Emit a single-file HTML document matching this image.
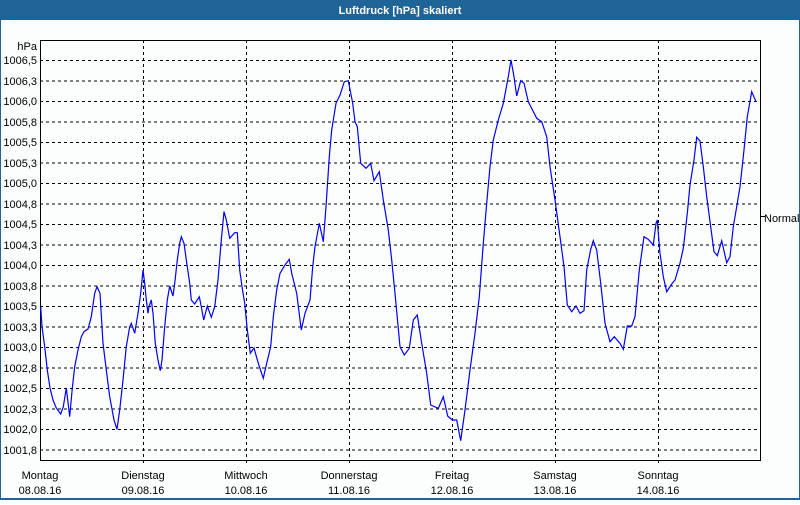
<!DOCTYPE html>
<html><head><meta charset="utf-8"><style>
html,body{margin:0;padding:0;background:#fff}
body{width:800px;height:500px;overflow:hidden}
svg text{font-family:"Liberation Sans",sans-serif;font-size:11px;fill:#000}
</style></head><body>
<svg width="800" height="500" xmlns="http://www.w3.org/2000/svg">
<rect x="0" y="0" width="800" height="500" fill="#fcfefe"/>
<rect x="0" y="0" width="800" height="20" fill="#1f6496"/>
<rect x="0" y="0" width="1" height="500" fill="#1f6496"/>
<rect x="799" y="0" width="1" height="500" fill="#1f6496"/>
<rect x="0" y="498" width="800" height="2" fill="#1f6496"/>
<text x="400" y="14" text-anchor="middle" style="fill:#fff;font-weight:bold">Luftdruck [hPa] skaliert</text>
<g stroke="#000" stroke-width="1" stroke-dasharray="3,3" fill="none">
<path d="M40 60.5H761M40 81H761M40 101.5H761M40 122H761M40 142.5H761M40 163H761M40 183.5H761M40 204H761M40 224.5H761M40 245H761M40 265.5H761M40 286H761M40 306.5H761M40 327H761M40 347.5H761M40 368H761M40 388.5H761M40 409H761M40 429.5H761M40 450H761"/>
<path d="M143.5 40V466M246.5 40V466M349.5 40V466M452.5 40V466M555.5 40V466M658.5 40V466"/>
</g>
<path d="M40.5 40V461M40 40.5H761M760.5 40V461M40 460.5H761M761 216.5H765" stroke="#000" stroke-width="1" fill="none"/>
<g text-anchor="end">
<text x="37" y="50">hPa</text>
<text x="37" y="64">1006,5</text><text x="37" y="85">1006,3</text><text x="37" y="105">1006,0</text><text x="37" y="126">1005,8</text><text x="37" y="146">1005,5</text><text x="37" y="167">1005,3</text><text x="37" y="187">1005,0</text><text x="37" y="208">1004,8</text><text x="37" y="228">1004,5</text><text x="37" y="249">1004,3</text><text x="37" y="269">1004,0</text><text x="37" y="290">1003,8</text><text x="37" y="310">1003,5</text><text x="37" y="331">1003,3</text><text x="37" y="351">1003,0</text><text x="37" y="372">1002,8</text><text x="37" y="392">1002,5</text><text x="37" y="413">1002,3</text><text x="37" y="433">1002,0</text><text x="37" y="454">1001,8</text>
</g>
<text x="764" y="222">Normal</text>
<g text-anchor="middle">
<text x="40" y="479">Montag</text><text x="40" y="494">08.08.16</text>
<text x="143" y="479">Dienstag</text><text x="143" y="494">09.08.16</text>
<text x="246" y="479">Mittwoch</text><text x="246" y="494">10.08.16</text>
<text x="349" y="479">Donnerstag</text><text x="349" y="494">11.08.16</text>
<text x="452" y="479">Freitag</text><text x="452" y="494">12.08.16</text>
<text x="555" y="479">Samstag</text><text x="555" y="494">13.08.16</text>
<text x="658" y="479">Sonntag</text><text x="658" y="494">14.08.16</text>
</g>
<polyline fill="none" stroke="#0000ff" stroke-width="1.2" points="40.7,306.7 42,326.7 44.7,346.7 47.3,370 50,388 53,400 56.3,408 60.7,414 63.3,406.7 66.3,388 69.7,416.7 72.3,388 74.7,366.7 78,350 81.3,336.7 84,331.7 88,329 91.3,316.7 94.7,293.3 97,286.7 100,293.3 103,343.3 106.3,370 109.7,396.7 114,420 117,429.3 119.7,410 123,380 126.3,346.7 129.7,326.7 131.3,323.3 134.7,333.3 138,313.3 140.7,293.3 143,270 144.7,283.3 146.3,300 148,313.3 149,306.7 151.3,300 153,313.3 155.3,343.3 158,360 160.3,370.7 162,360 164.7,326.7 167.3,300 169.7,286 173,296 174.7,283.3 177.3,260 179.7,243.3 181.3,236.7 184,243.3 186.3,260 189.7,283.3 191.3,300 194.7,304 199.3,296.7 201.3,306.7 203.7,320 207.3,306 211.3,317.3 214.7,306.7 218,280 221.3,240 224,211.7 226.3,220 229.7,238.3 234.7,232.7 237.3,232.7 239.7,270 242,286.7 244.7,303.3 247.3,330 250.3,353.3 254,348 258.3,363.3 263.3,378.3 266.7,363.3 270.7,346.7 273.3,316.7 276.7,290 280,273.3 285,265 289.3,259.3 291.7,273.3 296.7,293.3 301.3,330 305,313.3 310,300 312.7,266.7 315,246.7 319.3,223.3 323.3,241.7 326,206.7 329.3,156.7 331.7,130 336,103.3 340,95 344.3,81.7 348.3,80.7 352.7,103.3 355,121.7 357.3,126.7 360.7,163.3 366,168.3 370.7,163.3 374,180.7 379.3,171.7 383.3,200 388.3,230 391.7,260 395,293.3 400,346.7 404.3,355 409.3,348.3 413.3,320 417.3,315 421.7,343.3 426.7,373.3 430.7,405 438.3,408.3 443.3,396.7 447.7,416 452.3,420 456.7,420 460.7,440.7 465,410 470,370 475,333.3 479.3,296.7 483.3,243.3 486.7,203.3 490,166.7 493.3,140 498.3,120 503.3,103.3 508.3,76.7 511,60 514,76.7 516.7,96 520.7,80.7 524,83.3 528.3,101.7 536.7,118.3 541.7,121.7 546.7,136.7 550,166.7 555,200 560,236.7 564,266.7 567.3,305 571.7,311.7 576,306 580,313.3 584,310.7 586.7,270 590.7,249.3 593.3,240.7 596.7,250 600.7,283.3 605,323.3 610,341.7 614.3,336.7 620,343.3 623.3,349.3 627.3,326 631.7,326 635,316.7 639.3,270 644,236.7 648.3,239.3 653.3,245 656,223.3 657.3,220 658.3,233.3 660,253.3 663.3,276.7 666.7,291.7 671.7,284 675,280 680,263.3 683.3,248.3 687.3,213.3 690,185 694,160 696.7,137.3 700,141 703.3,166.7 706.7,196.7 710.7,226.7 714,251.7 717.3,255.7 721.7,240.7 726.7,262.7 730,256.7 733.3,226.7 736.7,206.7 740,186.7 744,150 747.3,116.7 751.7,91.7 756,101.7"/>
</svg>
</body></html>
